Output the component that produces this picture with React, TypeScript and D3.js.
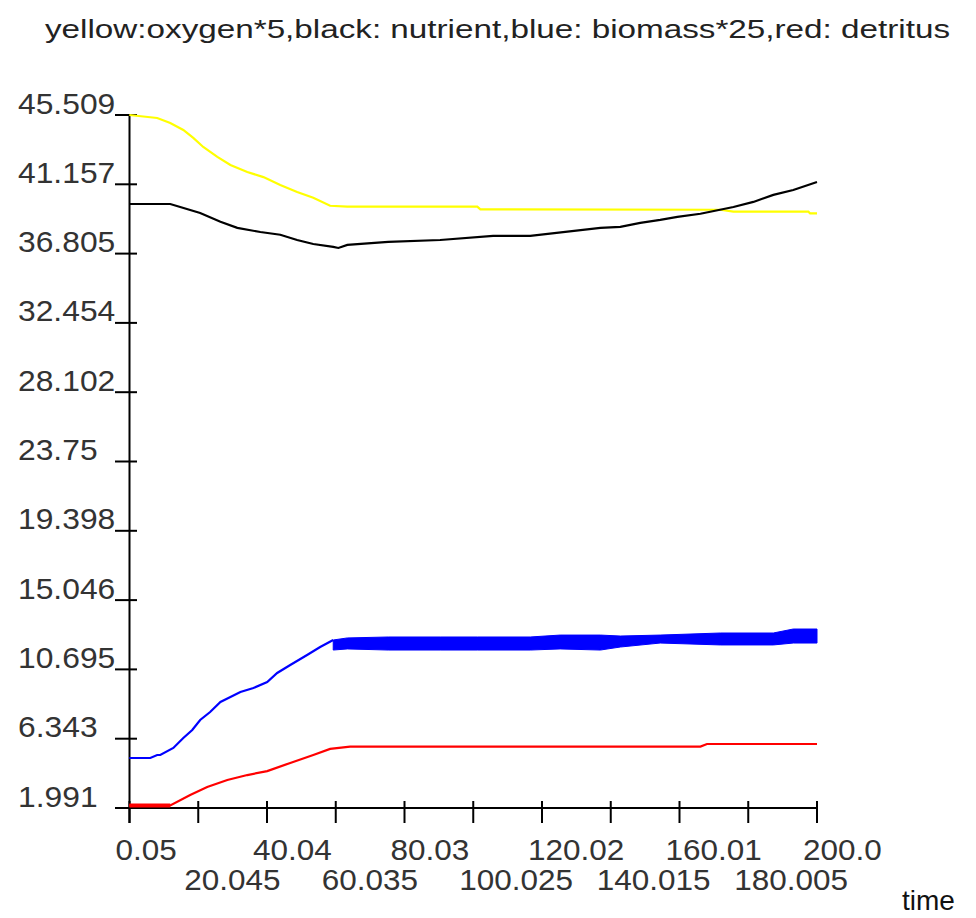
import React from 'react';
import * as d3 from 'd3';

const title = 'yellow:oxygen*5,black: nutrient,blue: biomass*25,red: detritus';

const yTickLabels = ['1.991', '6.343', '10.695', '15.046', '19.398', '23.75', '28.102', '32.454', '36.805', '41.157', '45.509'];
const xTickLabels = ['0.05', '20.045', '40.04', '60.035', '80.03', '100.025', '120.02', '140.015', '160.01', '180.005', '200.0'];

// yellow: oxygen*5
const oxygenT = [0, 8.1, 11.9, 15.7, 18.6, 21.5, 25.6, 29.4, 34.3, 39.0, 43.9, 48.8, 53.5, 58.4, 63.4, 101.2, 102.1, 171.9, 175.7, 197.5, 198, 200];
const oxygenV = [45.51, 45.32, 45.01, 44.57, 44.07, 43.5, 42.88, 42.37, 41.93, 41.61, 41.11, 40.67, 40.31, 39.81, 39.75, 39.75, 39.58, 39.56, 39.44, 39.44, 39.33, 39.33];

// black: nutrient
const nutrientT = [0, 11.9, 14.8, 20.6, 26.5, 31.4, 38.1, 43.9, 48.8, 53.5, 59.3, 60.8, 63.4, 75.3, 90.4, 105.8, 116.6, 137.0, 142.8, 148.6, 154.4, 159.4, 166.1, 175.7, 181.5, 187.3, 193.1, 200];
const nutrientV = [39.92, 39.92, 39.73, 39.36, 38.8, 38.42, 38.16, 37.99, 37.66, 37.41, 37.23, 37.16, 37.35, 37.54, 37.66, 37.92, 37.92, 38.42, 38.48, 38.73, 38.92, 39.11, 39.31, 39.73, 40.05, 40.49, 40.8, 41.3];

// blue: biomass*25 (rising part, then a noisy band)
const biomassT = [0, 6.1, 8.1, 9.0, 12.8, 15.7, 18.3, 20.6, 23.5, 26.5, 29.4, 32.3, 36.1, 40.1, 43.0, 46.8, 51.7, 55.5, 59.3];
const biomassV = [5.13, 5.13, 5.32, 5.32, 5.76, 6.39, 6.89, 7.52, 8.02, 8.65, 8.96, 9.28, 9.53, 9.9, 10.47, 10.97, 11.6, 12.1, 12.54];
const biomassBandT = [59.3, 63.4, 75.3, 90.4, 101.2, 116.6, 125.3, 137.0, 142.8, 154.4, 171.9, 187.3, 193.1, 200];
const biomassBandHi = [12.54, 12.67, 12.73, 12.73, 12.73, 12.73, 12.85, 12.85, 12.79, 12.85, 12.98, 12.98, 13.23, 13.23];
const biomassBandLo = [11.91, 11.98, 11.91, 11.91, 11.91, 11.91, 11.98, 11.91, 12.1, 12.35, 12.23, 12.23, 12.35, 12.35];

// red: detritus
const detritusT = [0, 11.9, 17.7, 22.65, 28.5, 34.3, 40.1, 46.8, 53.5, 58.4, 64.2, 166.1, 168, 200];
const detritusV = [2.15, 2.15, 2.81, 3.31, 3.75, 4.06, 4.31, 4.82, 5.32, 5.7, 5.85, 5.85, 6.01, 6.01];

const W = 976;
const H = 918;
const fontFamily = '"Liberation Sans", Arial, sans-serif';

const App = () => {
  const x = d3.scaleLinear().domain([0.05, 200]).range([129.5, 817]);
  const y = d3.scaleLinear().domain([1.991, 45.509]).range([808, 115]);

  const line = d3.line<[number, number]>()
    .x(d => x(d[0]))
    .y(d => y(d[1]));

  const pairs = (t: number[], v: number[]) => t.map((tt, i) => [tt, v[i]] as [number, number]);

  const band = d3.area<number>()
    .x((_, i) => x(biomassBandT[i]))
    .y0((_, i) => y(biomassBandLo[i]))
    .y1((_, i) => y(biomassBandHi[i]));

  const series = [
    { t: oxygenT, v: oxygenV, color: '#ffff00' },
    { t: nutrientT, v: nutrientV, color: '#000000' },
    { t: biomassT, v: biomassV, color: '#0000ff' },
    { t: detritusT, v: detritusV, color: '#ff0000' },
  ];

  const yTicks = yTickLabels.map(Number);
  const xTicks = xTickLabels.map(Number);

  return (
    <svg width={W} height={H} style={{ position: 'absolute', left: 0, top: 0, background: '#fff' }}>
      <text x={45} y={38} fontFamily={fontFamily} fontSize={25} fill="#222"
        textLength={905} lengthAdjust="spacingAndGlyphs">{title}</text>

      {/* axes */}
      <line x1={x(0.05)} x2={x(0.05)} y1={y(45.509)} y2={823} stroke="#000" strokeWidth={2} />
      <line x1={115} x2={818} y1={y(1.991)} y2={y(1.991)} stroke="#000" strokeWidth={2} />

      {yTicks.map((v, i) => (
        <g key={'y' + i}>
          <line x1={115} x2={137} y1={y(v)} y2={y(v)} stroke="#000" strokeWidth={2} />
          <text transform={`translate(18,${y(v) - 1.5}) scale(1.06,1)`} fontFamily={fontFamily}
            fontSize={30} fill="#333">{yTickLabels[i]}</text>
        </g>
      ))}

      {xTicks.map((v, i) => (
        <g key={'x' + i}>
          <line x1={x(v)} x2={x(v)} y1={801} y2={823} stroke="#000" strokeWidth={2} />
          <text transform={`translate(${x(v) - 14},${i % 2 === 0 ? 860 : 890}) scale(1.05,1)`}
            fontFamily={fontFamily} fontSize={30} fill="#333">{xTickLabels[i]}</text>
        </g>
      ))}

      <text x={902} y={910} fontFamily={fontFamily} fontSize={28} fill="#111">time</text>

      {/* series */}
      {series.map((s, i) => (
        <path key={i} d={line(pairs(s.t, s.v)) || ''} fill="none" stroke={s.color} strokeWidth={2.2} />
      ))}
      <path d={band(biomassBandT) || ''} fill="#0000ff" stroke="#0000ff" strokeWidth={1} />
      <path d={line(pairs(detritusT.slice(0, 2), detritusV.slice(0, 2))) || ''} fill="none" stroke="#ff0000" strokeWidth={4} />
    </svg>
  );
};

export default App;
